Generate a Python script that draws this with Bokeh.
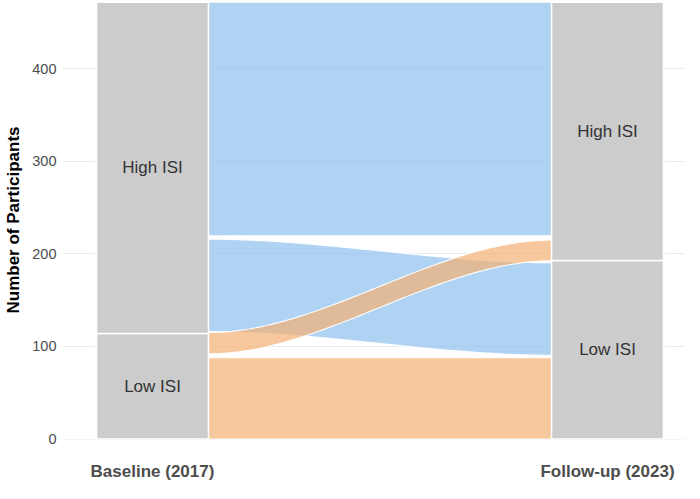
import numpy as np
from bokeh.plotting import figure
from bokeh.models import Range1d, FixedTicker
from bokeh.core.properties import value
from bokeh.embed import file_html
from bokeh.resources import INLINE

# survey waves (x axis)
waves = ["Baseline (2017)", "Follow-up (2023)"]

# strata: ISI group sizes at each wave (stacked bottom -> top)
isi_levels = ["Low ISI", "High ISI"]
baseline_counts = [114, 358]
followup_counts = [193, 279]

# flows between waves (extent at each end)
flow_from = ["High ISI", "High ISI", "Low ISI", "Low ISI"]
flow_to = ["High ISI", "Low ISI", "Low ISI", "High ISI"]
flow_left_bottom = [219.5, 116, 0, 92]
flow_left_top = [472, 216, 88, 115]
flow_right_bottom = [219.5, 90.5, 0, 192.5]
flow_right_top = [472, 190.5, 88, 215]

FONT = "Liberation Sans"
flow_colors = {"Low ISI": "#F4B073", "High ISI": "#8EBFEE"}
w = 0.246  # stratum width

p = figure(width=684, height=483, output_backend="svg", toolbar_location=None,
           x_range=Range1d(0.8022, 2.1692), y_range=Range1d(-0.5, 473.8),
           min_border_left=62, min_border_right=0, min_border_top=0,
           min_border_bottom=43)
p.outline_line_color = None
p.background_fill_color = "white"

# flows
t = np.linspace(0, 1, 60)
s = t * t * (3 - 2 * t)
x0, x1 = 1 + w / 2, 2 - w / 2
xx = x0 + (x1 - x0) * t
xs, ys, cols = [], [], []
for i in range(len(flow_from)):
    top = flow_left_top[i] + (flow_right_top[i] - flow_left_top[i]) * s
    bot = flow_left_bottom[i] + (flow_right_bottom[i] - flow_left_bottom[i]) * s
    xs.append(list(xx) + list(xx[::-1]))
    ys.append(list(top) + list(bot[::-1]))
    cols.append(flow_colors[flow_from[i]])
p.patches(xs, ys, fill_color=cols, fill_alpha=0.7, line_color="white",
          line_width=1.2, line_alpha=0.9)

# strata
sl, sr, sb, st, lx, ly, lt = [], [], [], [], [], [], []
for xi, counts in zip([1, 2], [baseline_counts, followup_counts]):
    cum = np.cumsum([0] + counts)
    for j, lev in enumerate(isi_levels):
        sl.append(xi - w / 2)
        sr.append(xi + w / 2)
        sb.append(cum[j])
        st.append(cum[j + 1])
        lx.append(xi)
        ly.append((cum[j] + cum[j + 1]) / 2)
        lt.append(lev)
p.quad(left=sl, right=sr, bottom=sb, top=st, fill_color="#CCCCCC",
       line_color="white", line_width=1.5)
p.text(x=lx, y=ly, text=lt, text_align="center", text_baseline="middle",
       text_font=value(FONT), text_font_size="17px", text_color="#333333")

# axes / grid
p.xgrid.grid_line_color = None
p.ygrid.ticker = FixedTicker(ticks=[0, 100, 200, 300, 400])
p.ygrid.grid_line_color = "#EBEBEB"
p.ygrid.grid_line_width = 1.2

p.yaxis.ticker = FixedTicker(ticks=[0, 100, 200, 300, 400])
p.xaxis.ticker = FixedTicker(ticks=[1, 2])
p.xaxis.major_label_overrides = {1: waves[0], 2: waves[1]}
for ax in [p.xaxis[0], p.yaxis[0]]:
    ax.axis_line_color = None
    ax.major_tick_line_color = None
    ax.minor_tick_line_color = None
    ax.major_tick_out = 0
    ax.major_label_text_font = FONT
p.yaxis.major_label_text_font_size = "14.5px"
p.yaxis.major_label_text_color = "#4D4D4D"
p.yaxis.major_label_standoff = 6
p.xaxis.major_label_text_font_size = "17px"
p.xaxis.major_label_text_font_style = "bold"
p.xaxis.major_label_text_color = "#4D4D4D"
p.xaxis.major_label_standoff = 22

p.yaxis.axis_label = "Number of Participants"
p.yaxis.axis_label_text_font = FONT
p.yaxis.axis_label_text_font_size = "17px"
p.yaxis.axis_label_text_font_style = "bold"
p.yaxis.axis_label_text_color = "black"
p.yaxis.axis_label_standoff = 6

open("out.html", "w").write(file_html(p, INLINE))
